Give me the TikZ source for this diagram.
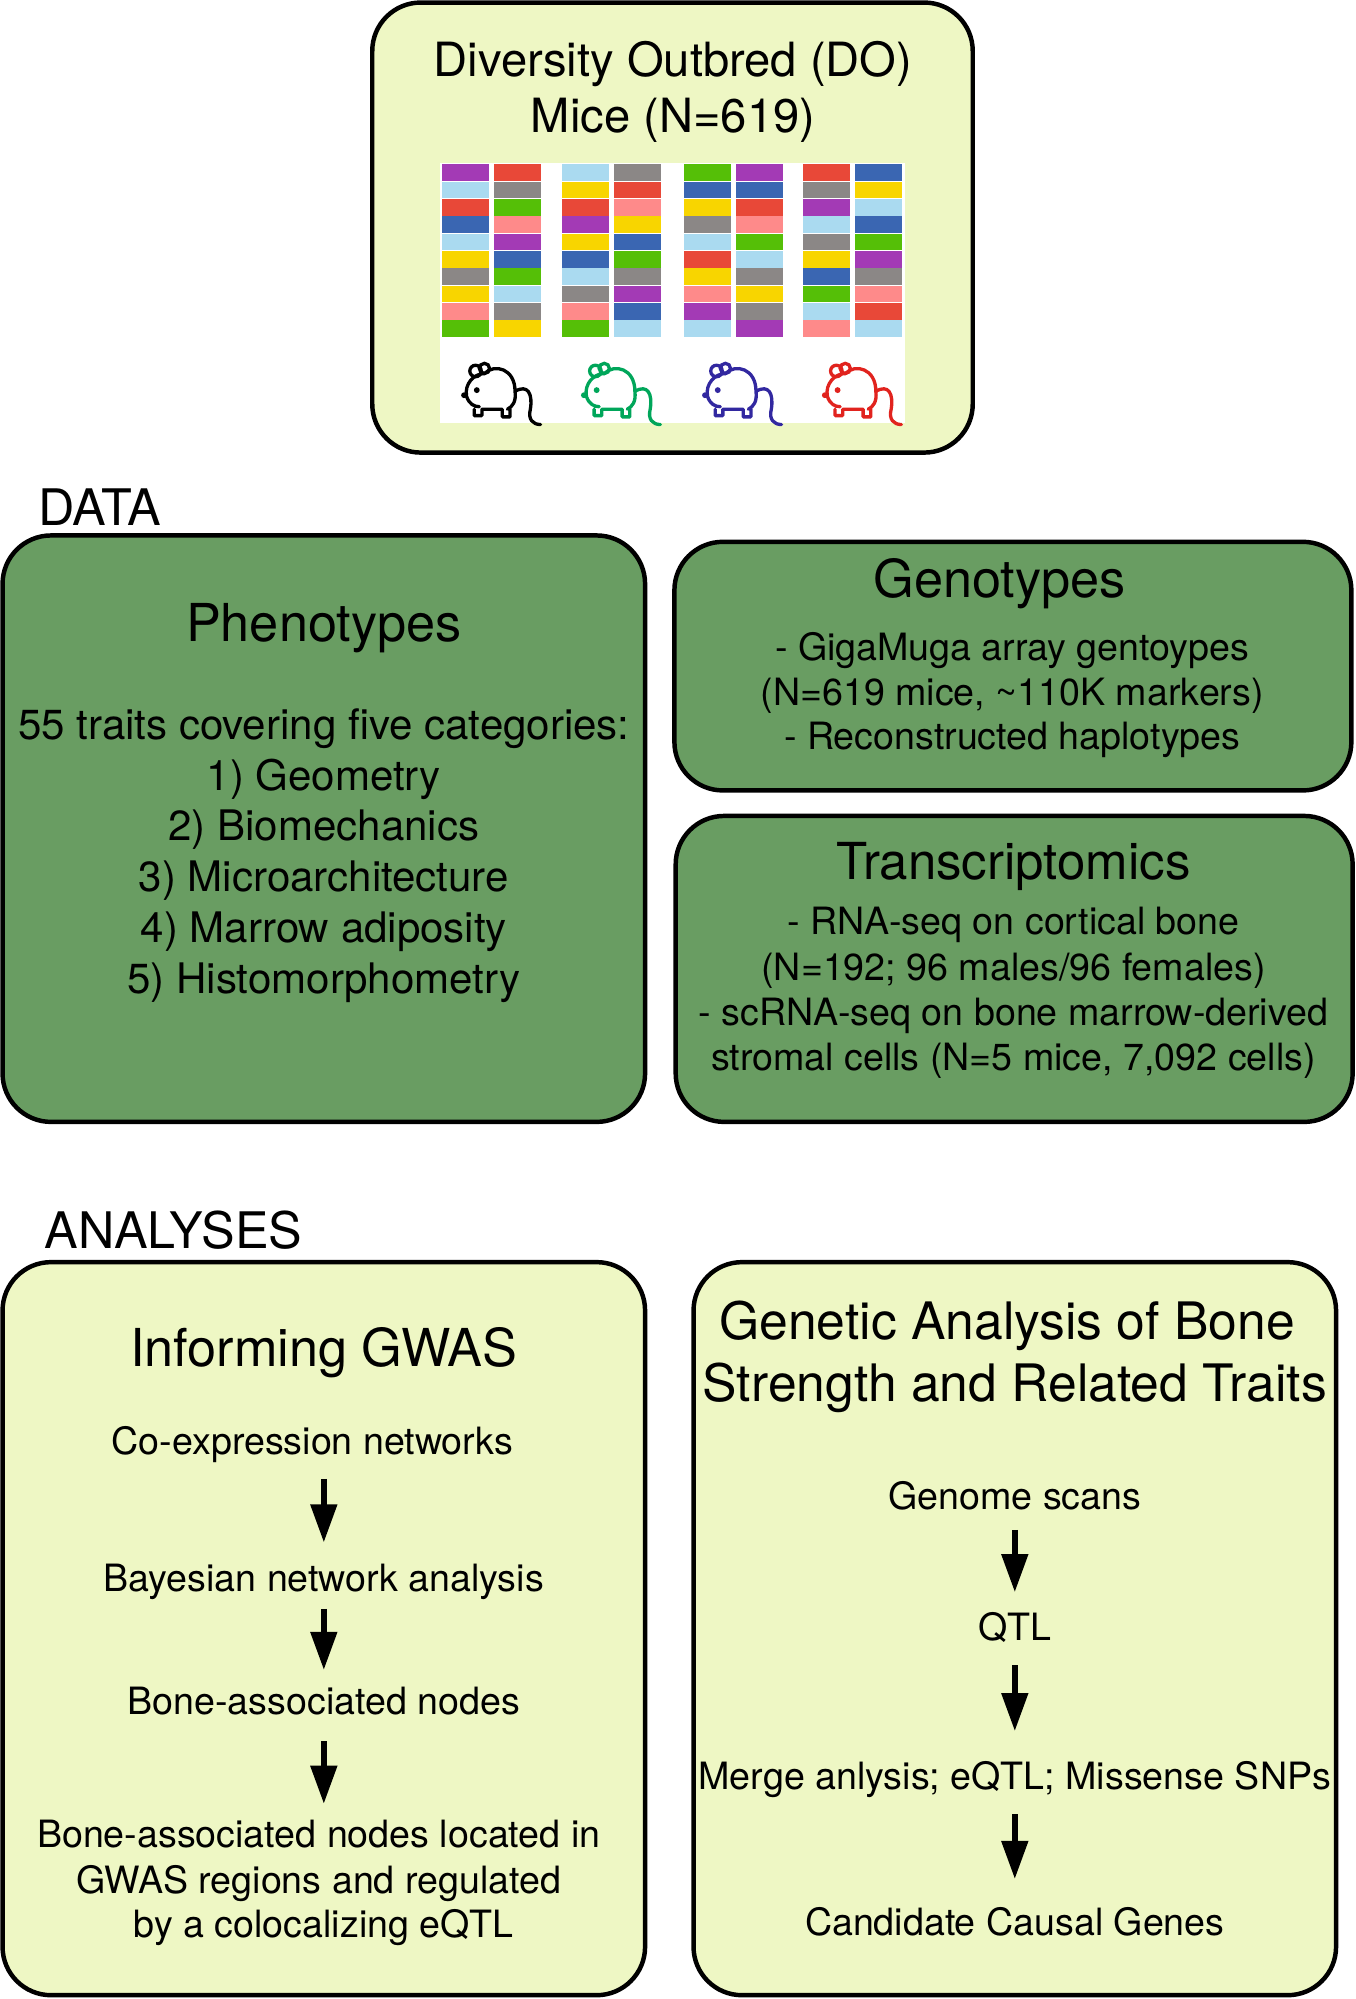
\documentclass[tikz,border=0pt]{standalone}
\usepackage{fontspec}
\setmainfont{TeX Gyre Heros}
\usetikzlibrary{arrows.meta}
\definecolor{ly}{HTML}{EEF7C4}
\definecolor{dg}{HTML}{699D62}
\definecolor{cP}{HTML}{A33AB5}
\definecolor{cL}{HTML}{AADAF0}
\definecolor{cR}{HTML}{E84838}
\definecolor{cB}{HTML}{3A66B2}
\definecolor{cY}{HTML}{F8D500}
\definecolor{cG}{HTML}{8B8786}
\definecolor{cK}{HTML}{FE8A8A}
\definecolor{cN}{HTML}{55BF07}
\tikzset{
 box/.style={draw=black,line width=3.5pt,rounded corners=38pt},
 t/.style={font=\fontsize{29.5}{33}\selectfont,inner sep=0pt,anchor=base},
 big/.style={font=\fontsize{41}{46}\selectfont,inner sep=0pt,anchor=base},
 arr/.style={line width=5pt,-{Triangle[length=30pt,width=20pt]}},
 mouse/.pic={
  \draw[line width=2.6pt,line cap=round,line join=round]
   (8,30) .. controls (6,20) and (14,12) .. (22,12)
   .. controls (30,4) and (46,8) .. (46,26)
   .. controls (47,34) and (44,38) .. (40,40)
   (8,30) .. controls (10,36) and (14,38) .. (18,38)
   (14,40) -- (14,45) -- (20,45) -- (20,40) -- (36,40) -- (36,46) -- (42,46) -- (42,40)
   (46,26) .. controls (56,20) and (60,28) .. (58,40) .. controls (56,48) and (60,52) .. (66,52);
  \draw[line width=2.6pt] (15,10) circle (4.5pt) (22,8) circle (4pt);
  \fill (16,25) circle (2.3pt) (6,29) circle (2.3pt);
 }
}
\begin{document}
\begin{tikzpicture}[x=1pt,y=-1pt]
\useasboundingbox (0,0) rectangle (1063,1568);
% top box
\draw[box,fill=ly] (292,2) rectangle (763,355);
\node[big,font=\fontsize{37}{42}\selectfont] (ti1) at (528,60) {Diversity Outbred (DO)};
\node[big,font=\fontsize{37}{42}\selectfont] (ti2) at (528,104) {Mice (N=619)};
\fill[white] (345,128) rectangle (710,332);
\def\xs{346.5,387.5,441,481.7,536.6,577,629.7,670.5}
\def\cols{{"cP","cL","cR","cB","cL","cY","cG","cY","cK","cN"},
 {"cR","cG","cN","cK","cP","cB","cN","cL","cG","cY"},
 {"cL","cY","cR","cP","cY","cB","cL","cG","cK","cN"},
 {"cG","cR","cK","cY","cB","cN","cG","cP","cB","cL"},
 {"cN","cB","cY","cG","cL","cR","cY","cK","cP","cL"},
 {"cP","cB","cR","cK","cN","cL","cG","cY","cG","cP"},
 {"cR","cG","cP","cL","cG","cY","cB","cN","cL","cK"},
 {"cB","cY","cL","cB","cN","cP","cG","cK","cR","cL"}}
\foreach \x [count=\c from 0] in \xs {
 \foreach \r in {0,...,9} {
  \pgfmathsetmacro{\cc}{{\cols}[\c][\r]}
  \fill[\cc] (\x,128.9+\r*13.6) rectangle ++(37,13.1);
 }
}
\pic[black] at (358,281) {mouse};
\pic[color={rgb,255:red,0;green,166;blue,90}] at (452,281) {mouse};
\pic[color={rgb,255:red,50;green,40;blue,160}] at (547,281) {mouse};
\pic[color={rgb,255:red,225;green,35;blue,30}] at (641,281) {mouse};
% DATA
\node[big,font=\fontsize{39.5}{44}\selectfont,anchor=base west] (data) at (30,412) {DATA};
\draw[box,fill=dg] (2,420) rectangle (506,880);
\node[big] (ph) at (254,503) {Phenotypes};
\foreach \s/\y [count=\i] in {55 traits covering five categories:/580,1) Geometry/620,2) Biomechanics/659,3) Microarchitecture/699,4) Marrow adiposity/739,5) Histomorphometry/779}
 \node[t,font=\fontsize{33}{37}\selectfont] (pl\i) at (254,\y) {\s};
\draw[box,fill=dg] (529,425) rectangle (1060,620);
\node[big] (ge) at (784,469) {Genotypes};
\node[t] (g1) at (794,518) {- GigaMuga array gentoypes};
\node[t] (g2) at (794,553) {(N=619 mice, \textasciitilde110K markers)};
\node[t] (g3) at (794,588) {- Reconstructed haplotypes};
\draw[box,fill=dg] (530,640) rectangle (1061,880);
\node[big,font=\fontsize{40}{45}\selectfont] (tr) at (795,690) {Transcriptomics};
\node[t] (t1) at (795,733) {- RNA-seq on cortical bone};
\node[t] (t2) at (795,769) {(N=192; 96 males/96 females)};
\node[t] (t3) at (795,804) {- scRNA-seq on bone marrow-derived};
\node[t] (t4) at (795,840) {stromal cells (N=5 mice, 7,092 cells)};
% ANALYSES
\node[big,font=\fontsize{39.5}{44}\selectfont,anchor=base west] (an) at (35,979) {ANALYSES};
\draw[box,fill=ly] (2,990) rectangle (506,1565);
\node[big] (ig) at (254,1072) {Informing GWAS};
\node[t] (a1) at (245,1141) {Co-expression networks};
\node[t] (a2) at (254,1248) {Bayesian network analysis};
\node[t] (a3) at (254,1345) {Bone-associated nodes};
\node[t] (a4) at (250,1449) {Bone-associated nodes located in};
\node[t] (a5) at (250,1485) {GWAS regions and regulated};
\node[t] (a6) at (254,1520) {by a colocalizing eQTL};
\coordinate (s1) at (254,1160); \coordinate (e1) at (254,1210);
\coordinate (s2) at (254,1262); \coordinate (e2) at (254,1310);
\coordinate (s3) at (254,1366); \coordinate (e3) at (254,1415);
\draw[arr] (s1) -- (e1); \draw[arr] (s2) -- (e2); \draw[arr] (s3) -- (e3);
\draw[box,fill=ly] (544,990) rectangle (1048,1565);
\node[big,font=\fontsize{40.5}{45}\selectfont] (ga1) at (790,1051) {Genetic Analysis of Bone};
\node[big,font=\fontsize{40.5}{45}\selectfont] (ga2) at (796,1099) {Strength and Related Traits};
\node[t] (b1) at (796,1184) {Genome scans};
\node[t] (b2) at (796,1287) {QTL};
\node[t] (b3) at (796,1404) {Merge anlysis; eQTL; Missense SNPs};
\node[t] (b4) at (796,1518) {Candidate Causal Genes};
\coordinate (u1) at (796,1200); \coordinate (v1) at (796,1249);
\coordinate (u2) at (796,1306); \coordinate (v2) at (796,1358);
\coordinate (u3) at (796,1423); \coordinate (v3) at (796,1474);
\draw[arr] (u1) -- (v1); \draw[arr] (u2) -- (v2); \draw[arr] (u3) -- (v3);
\end{tikzpicture}
\end{document}
